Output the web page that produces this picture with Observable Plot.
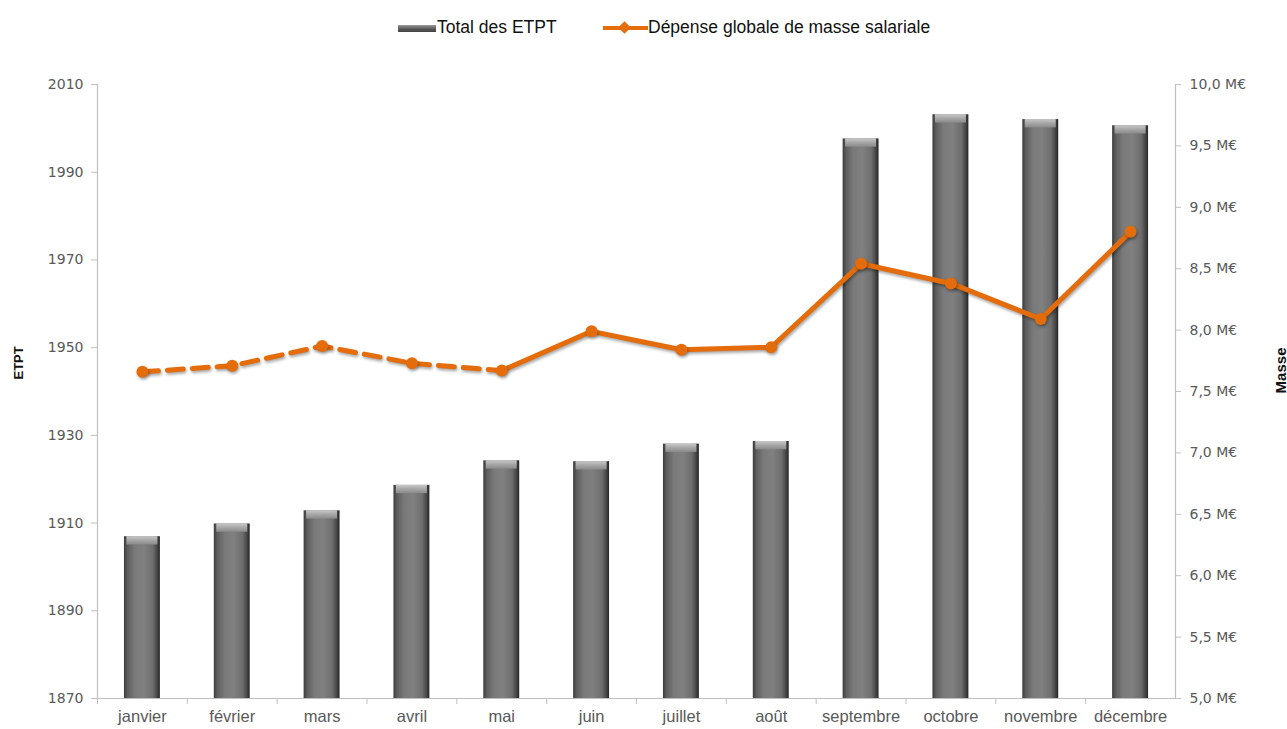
<!DOCTYPE html>
<html><head><meta charset="utf-8">
<script src="https://cdn.jsdelivr.net/npm/d3@7"></script>
<script src="https://cdn.jsdelivr.net/npm/@observablehq/plot@0.6"></script>
<style>
body{margin:0;background:#fff;width:1287px;height:729px;overflow:hidden;font-family:"Liberation Sans",Arial,sans-serif}
#legend{position:relative;height:56px;font-size:17.5px;color:#111}
.sw1{position:absolute;left:398px;top:25px;width:38px;height:7px;background:linear-gradient(#9a9a9a,#555 60%,#444)}
.t1{position:absolute;left:437px;top:17px}
.sw2{position:absolute;left:603px;top:26px;width:45px;height:4px;background:#E46C0A}
.dm{position:absolute;left:620px;top:23px;width:9px;height:9px;background:#E46C0A;transform:rotate(45deg)}
.t2{position:absolute;left:648px;top:17px}
#chart svg{display:block}
</style></head><body>
<div id="legend"><div class="sw1"></div><div class="t1">Total des ETPT</div><div class="sw2"></div><div class="dm"></div><div class="t2">Dépense globale de masse salariale</div></div>
<div id="chart"></div>
<script>
const months = ["janvier","février","mars","avril","mai","juin","juillet","août","septembre","octobre","novembre","décembre"];
const etpt = [1906.9, 1909.8, 1912.8, 1918.6, 1924.2, 1924.0, 1928.0, 1928.6, 1997.6, 2003.1, 2002.0, 2000.6];
const masse = [7.66, 7.71, 7.87, 7.73, 7.67, 7.99, 7.84, 7.86, 8.54, 8.38, 8.09, 8.80];
const leftTicks = [1870, 1890, 1910, 1930, 1950, 1970, 1990, 2010];
const rightTicks = [5.0, 5.5, 6.0, 6.5, 7.0, 7.5, 8.0, 8.5, 9.0, 9.5, 10.0];
const dashedMonths = ["janvier","février","mars","avril","mai"];

const yMin = 1870, yMax = 2010, mMin = 5, mMax = 10;
const toY = v => yMin + (v - mMin) * (yMax - yMin) / (mMax - mMin);
const fromY = y => mMin + (y - yMin) * (mMax - mMin) / (yMax - yMin);

const bars = months.map((m, i) => ({month: m, etpt: etpt[i]}));
const pts = months.map((m, i) => ({month: m, masse: masse[i], y: toY(masse[i])}));
const dashed = pts.filter(d => dashedMonths.includes(d.month));
const solid = pts.filter((d, i) => i >= dashedMonths.length - 1);

const W = 1287, H = 673, mL = 97, mR = 112;
const step = (W - mL - mR) / months.length;
const tickFont = "DejaVu Sans, sans-serif";
const orange = "#E46C0A";

const plot = Plot.plot({
  width: W, height: H,
  marginTop: 28, marginBottom: 31, marginLeft: mL, marginRight: mR,
  style: {background: "#fff", overflow: "visible"},
  x: {domain: months, paddingInner: 0.6, paddingOuter: 0.3, round: false, axis: null},
  y: {domain: [yMin, yMax], axis: null},
  marks: [
    Plot.barY(bars, {x: "month", y: "etpt", y1: yMin, fill: "url(#barGrad)"}),
    Plot.rectY(bars, {x: "month", y1: d => d.etpt - 1.9, y2: "etpt", fill: "url(#capGrad)", insetLeft: 2.5, insetRight: 2.5}),
    Plot.ruleY([yMin], {stroke: "#bfbfbf", strokeWidth: 1.2}),
    Plot.frame({anchor: "left", stroke: "#bfbfbf", strokeWidth: 1.2}),
    Plot.frame({anchor: "right", stroke: "#bfbfbf", strokeWidth: 1.2}),
    Plot.axisY(leftTicks, {anchor: "left", tickSize: 6, tickPadding: 8, stroke: "#bfbfbf", fill: "#595959", fontSize: 14, fontFamily: tickFont, label: null, tickFormat: d => String(d)}),
    Plot.axisY(rightTicks.map(toY), {anchor: "right", tickSize: 5, tickPadding: 9, stroke: "#bfbfbf", fill: "#595959", fontSize: 14, fontFamily: tickFont, label: null, tickFormat: d => fromY(d).toFixed(1).replace(".", ",") + " M€"}),
    Plot.axisX(months, {anchor: "bottom", tickSize: 6, dx: -step / 2, stroke: "#bfbfbf", tickFormat: () => "", label: null}),
    Plot.axisX(months, {anchor: "bottom", tickSize: 0, tickPadding: 12, fill: "#595959", fontSize: 16.5, fontFamily: "Liberation Sans, Arial, sans-serif", label: null}),
    Plot.text(["ETPT"], {frameAnchor: "left", dx: -79, dy: -12, rotate: -90, fontWeight: "bold", fontSize: 13, fill: "#111", fontFamily: "Liberation Sans, Arial, sans-serif"}),
    Plot.text(["Masse"], {frameAnchor: "right", dx: 106, dy: -44, rotate: -90, fontWeight: "bold", fontSize: 15, fill: "#111", fontFamily: "Liberation Sans, Arial, sans-serif"}),
    Plot.line(dashed, {x: "month", y: "y", stroke: orange, strokeWidth: 5, strokeDasharray: "16,9", strokeLinecap: "round", className: "shadowed"}),
    Plot.line(solid, {x: "month", y: "y", stroke: orange, strokeWidth: 5, strokeLinejoin: "round", className: "shadowed"}),
    Plot.dot(pts, {x: "month", y: "y", r: 6, fill: orange, stroke: "none", symbol: "circle", className: "shadowed"})
  ]
});

const defs = d3.select(plot).insert("defs", ":first-child");
const g = defs.append("linearGradient").attr("id", "barGrad").attr("x1", 0).attr("x2", 1).attr("y1", 0).attr("y2", 0);
[[0, "#3c3c3c"], [0.1, "#5e5e5e"], [0.3, "#7a7a7a"], [0.55, "#808080"], [0.8, "#6e6e6e"], [0.92, "#474747"], [1, "#252525"]]
  .forEach(([o, c]) => g.append("stop").attr("offset", o).attr("stop-color", c));
const c = defs.append("linearGradient").attr("id", "capGrad").attr("x1", 0).attr("x2", 0).attr("y1", 0).attr("y2", 1);
[[0, "#c8c8c8"], [0.5, "#a6a6a6"], [1, "#8a8a8a"]]
  .forEach(([o, col]) => c.append("stop").attr("offset", o).attr("stop-color", col));
d3.select(plot).append("style").text(".shadowed{filter:drop-shadow(1px 2px 1.5px rgba(0,0,0,0.35))}");

document.getElementById("chart").appendChild(plot);
</script>
</body></html>
